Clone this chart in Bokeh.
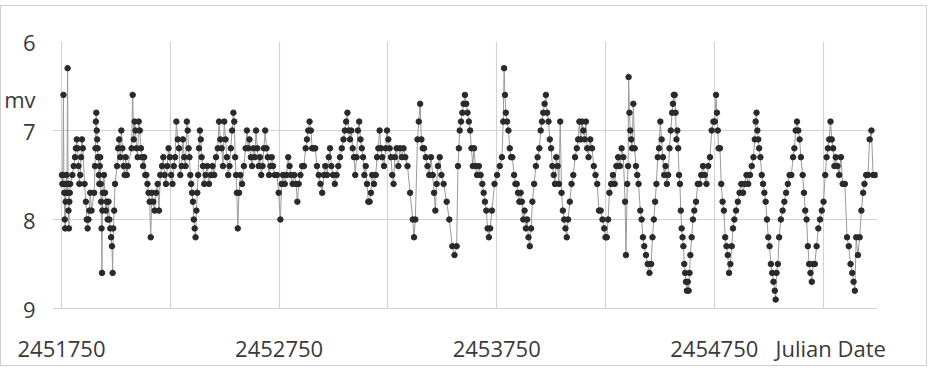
from bokeh.plotting import figure
from bokeh.models import FixedTicker
from bokeh.embed import file_html
from bokeh.resources import INLINE

# Julian dates of the visual estimates
jd = [
    2451752, 2451754, 2451756, 2451759, 2451761, 2451763, 2451765, 2451767, 2451769, 2451771,
    2451773, 2451775, 2451778, 2451780, 2451782, 2451784, 2451786, 2451788, 2451790, 2451800,
    2451806, 2451812, 2451816, 2451820, 2451824, 2451828, 2451832, 2451836, 2451840, 2451844,
    2451848, 2451856, 2451862, 2451866, 2451870, 2451874, 2451878, 2451882, 2451888, 2451900,
    2451904, 2451906, 2451908, 2451910, 2451912, 2451914, 2451916, 2451918, 2451920, 2451922,
    2451924, 2451926, 2451928, 2451930, 2451932, 2451934, 2451936, 2451938, 2451940, 2451945,
    2451950, 2451954, 2451958, 2451962, 2451966, 2451970, 2451974, 2451978, 2451982, 2451985,
    2451988, 2451992, 2451996, 2452005, 2452010, 2452015, 2452020, 2452025, 2452030, 2452035,
    2452040, 2452045, 2452050, 2452055, 2452072, 2452077, 2452082, 2452086, 2452090, 2452095,
    2452100, 2452105, 2452110, 2452115, 2452120, 2452125, 2452130, 2452135, 2452140, 2452145,
    2452150, 2452155, 2452160, 2452165, 2452172, 2452178, 2452185, 2452192, 2452198, 2452204,
    2452212, 2452218, 2452224, 2452230, 2452236, 2452242, 2452248, 2452254, 2452260, 2452266,
    2452272, 2452278, 2452284, 2452290, 2452296, 2452302, 2452308, 2452314, 2452320, 2452326,
    2452330, 2452334, 2452338, 2452342, 2452346, 2452350, 2452354, 2452358, 2452362, 2452366,
    2452370, 2452374, 2452378, 2452382, 2452386, 2452390, 2452394, 2452400, 2452406, 2452412,
    2452420, 2452428, 2452436, 2452444, 2452452, 2452460, 2452468, 2452474, 2452480, 2452486,
    2452492, 2452498, 2452504, 2452510, 2452516, 2452522, 2452528, 2452534, 2452540, 2452544,
    2452548, 2452552, 2452556, 2452560, 2452566, 2452572, 2452580, 2452588, 2452596, 2452602,
    2452608, 2452614, 2452620, 2452626, 2452632, 2452638, 2452644, 2452650, 2452656, 2452662,
    2452668, 2452674, 2452680, 2452686, 2452692, 2452698, 2452704, 2452710, 2452716, 2452722,
    2452730, 2452740, 2452748, 2452756, 2452762, 2452768, 2452776, 2452784, 2452792, 2452798,
    2452804, 2452812, 2452820, 2452828, 2452834, 2452840, 2452848, 2452856, 2452864, 2452872,
    2452878, 2452884, 2452890, 2452896, 2452902, 2452908, 2452916, 2452924, 2452932, 2452940,
    2452948, 2452956, 2452962, 2452970, 2452978, 2452984, 2452990, 2452998, 2453006, 2453014,
    2453022, 2453030, 2453038, 2453046, 2453052, 2453058, 2453064, 2453070, 2453076, 2453082,
    2453088, 2453094, 2453100, 2453106, 2453112, 2453118, 2453124, 2453130, 2453136, 2453142,
    2453148, 2453154, 2453160, 2453166, 2453172, 2453178, 2453186, 2453194, 2453200, 2453206,
    2453212, 2453218, 2453224, 2453232, 2453240, 2453246, 2453252, 2453258, 2453264, 2453270,
    2453276, 2453282, 2453290, 2453298, 2453306, 2453314, 2453322, 2453330, 2453340, 2453352,
    2453364, 2453370, 2453376, 2453386, 2453392, 2453398, 2453404, 2453410, 2453416, 2453424,
    2453432, 2453440, 2453448, 2453456, 2453462, 2453468, 2453474, 2453480, 2453488, 2453496,
    2453506, 2453520, 2453532, 2453546, 2453556, 2453566, 2453572, 2453576, 2453580, 2453586,
    2453592, 2453598, 2453604, 2453610, 2453616, 2453622, 2453628, 2453634, 2453640, 2453646,
    2453652, 2453660, 2453668, 2453676, 2453684, 2453690, 2453696, 2453702, 2453708, 2453714,
    2453720, 2453728, 2453740, 2453752, 2453764, 2453774, 2453780, 2453784, 2453788, 2453792,
    2453798, 2453804, 2453810, 2453816, 2453822, 2453830, 2453836, 2453842, 2453848, 2453854,
    2453860, 2453866, 2453872, 2453878, 2453884, 2453890, 2453896, 2453902, 2453908, 2453914,
    2453922, 2453930, 2453938, 2453946, 2453952, 2453958, 2453964, 2453970, 2453976, 2453982,
    2453988, 2453994, 2454000, 2454006, 2454012, 2454018, 2454024, 2454030, 2454036, 2454042,
    2454048, 2454054, 2454060, 2454066, 2454072, 2454078, 2454086, 2454094, 2454102, 2454110,
    2454118, 2454124, 2454130, 2454136, 2454142, 2454148, 2454154, 2454160, 2454166, 2454172,
    2454180, 2454188, 2454196, 2454204, 2454212, 2454220, 2454228, 2454236, 2454244, 2454250,
    2454256, 2454262, 2454268, 2454276, 2454284, 2454292, 2454300, 2454308, 2454316, 2454324,
    2454332, 2454340, 2454344, 2454350, 2454354, 2454356, 2454360, 2454364, 2454368, 2454372,
    2454378, 2454384, 2454390, 2454396, 2454402, 2454410, 2454416, 2454422, 2454428, 2454436,
    2454444, 2454452, 2454460, 2454466, 2454472, 2454478, 2454484, 2454490, 2454496, 2454502,
    2454508, 2454514, 2454520, 2454526, 2454532, 2454538, 2454544, 2454550, 2454556, 2454560,
    2454564, 2454568, 2454572, 2454576, 2454580, 2454584, 2454588, 2454592, 2454596, 2454600,
    2454604, 2454608, 2454612, 2454616, 2454620, 2454624, 2454628, 2454632, 2454636, 2454640,
    2454646, 2454652, 2454658, 2454666, 2454674, 2454682, 2454690, 2454698, 2454706, 2454714,
    2454722, 2454730, 2454738, 2454746, 2454752, 2454758, 2454762, 2454766, 2454770, 2454776,
    2454782, 2454788, 2454794, 2454800, 2454806, 2454812, 2454818, 2454824, 2454830, 2454836,
    2454842, 2454850, 2454858, 2454866, 2454874, 2454882, 2454890, 2454898, 2454906, 2454914,
    2454922, 2454930, 2454936, 2454940, 2454944, 2454948, 2454952, 2454956, 2454962, 2454968,
    2454974, 2454980, 2454986, 2454992, 2454998, 2455004, 2455010, 2455016, 2455022, 2455028,
    2455032, 2455036, 2455042, 2455048, 2455056, 2455064, 2455072, 2455080, 2455088, 2455096,
    2455104, 2455112, 2455118, 2455124, 2455130, 2455136, 2455142, 2455148, 2455156, 2455162,
    2455168, 2455174, 2455180, 2455186, 2455192, 2455198, 2455204, 2455212, 2455220, 2455228,
    2455236, 2455244, 2455252, 2455260, 2455266, 2455272, 2455278, 2455284, 2455290, 2455296,
    2455302, 2455308, 2455316, 2455324, 2455332, 2455340, 2455350, 2455360, 2455368, 2455376,
    2455384, 2455390, 2455396, 2455402, 2455410, 2455418, 2455426, 2455434, 2455440, 2455448,
    2455456, 2455464, 2455472, 2455480, 2455490,
]

# visual magnitudes (mv)
mv = [
    7.5, 7.6, 7.5, 6.6, 7.6, 7.7, 8.0, 8.1, 7.8, 7.6,
    7.5, 7.7, 6.3, 7.6, 7.9, 8.1, 7.8, 7.7, 7.6, 7.5,
    7.4, 7.3, 7.2, 7.1, 7.2, 7.4, 7.6, 7.5, 7.3, 7.1,
    7.2, 7.6, 7.8, 8.0, 8.1, 8.0, 7.9, 7.7, 7.9, 7.7,
    7.4, 7.2, 6.9, 6.8, 7.0, 7.1, 7.2, 7.3, 7.3, 7.5,
    7.6, 7.4, 7.3, 7.6, 7.8, 8.1, 8.6, 7.9, 7.7, 7.5,
    7.7, 7.9, 7.8, 8.0, 7.8, 8.0, 8.1, 8.2, 8.3, 8.6,
    8.1, 7.9, 7.6, 7.4, 7.2, 7.1, 7.3, 7.0, 7.2, 7.4,
    7.5, 7.3, 7.5, 7.4, 7.2, 6.6, 7.1, 6.9, 7.0, 7.2,
    7.3, 6.9, 7.0, 7.2, 7.3, 7.4, 7.3, 7.5, 7.5, 7.6,
    7.7, 7.8, 8.2, 7.7, 7.8, 7.9, 7.7, 7.6, 7.9, 7.5,
    7.4, 7.3, 7.5, 7.6, 7.4, 7.2, 7.3, 7.5, 7.6, 7.4,
    7.3, 6.9, 7.1, 7.2, 7.5, 7.4, 7.1, 7.3, 7.4, 6.9,
    7.0, 7.2, 7.3, 7.5, 7.6, 7.7, 7.8, 8.0, 8.1, 8.2,
    7.9, 7.7, 7.5, 7.2, 7.0, 7.1, 7.3, 7.4, 7.6, 7.5,
    7.4, 7.6, 7.5, 7.4, 7.5, 7.3, 7.2, 6.9, 7.1, 7.2,
    7.4, 6.9, 7.1, 7.3, 7.5, 7.4, 7.2, 7.0, 6.8, 6.9,
    7.3, 7.5, 7.7, 8.1, 7.7, 7.5, 7.6, 7.4, 7.2, 7.0,
    7.2, 7.1, 7.3, 7.4, 7.2, 7.3, 7.0, 7.2, 7.4, 7.3,
    7.5, 7.4, 7.2, 7.0, 7.2, 7.3, 7.5, 7.4, 7.3, 7.4,
    7.5, 7.5, 7.7, 8.0, 7.6, 7.5, 7.6, 7.5, 7.3, 7.4,
    7.5, 7.6, 7.5, 7.6, 7.8, 7.6, 7.5, 7.4, 7.4, 7.2,
    7.1, 7.0, 6.9, 7.0, 7.2, 7.2, 7.2, 7.4, 7.5, 7.6,
    7.7, 7.5, 7.4, 7.5, 7.3, 7.2, 7.4, 7.5, 7.6, 7.5,
    7.4, 7.3, 7.2, 7.1, 7.0, 6.9, 6.8, 7.0, 7.1, 7.0,
    7.2, 7.3, 7.5, 7.3, 7.0, 6.9, 7.1, 7.2, 7.3, 7.5,
    7.4, 7.6, 7.8, 7.8, 7.7, 7.5, 7.6, 7.5, 7.3, 7.2,
    7.0, 7.2, 7.3, 7.4, 7.2, 7.0, 7.1, 7.2, 7.3, 7.5,
    7.6, 7.3, 7.2, 7.4, 7.2, 7.3, 7.2, 7.3, 7.4, 7.7,
    8.0, 8.2, 8.0, 7.1, 6.9, 6.7, 7.1, 7.2, 7.2, 7.3,
    7.4, 7.5, 7.3, 7.5, 7.7, 7.9, 7.6, 7.4, 7.3, 7.5,
    7.6, 7.8, 8.0, 8.3, 8.4, 8.3, 7.4, 7.2, 7.0, 6.9,
    6.8, 6.7, 6.6, 6.7, 6.8, 6.9, 7.0, 7.2, 7.4, 7.2,
    7.4, 7.5, 7.4, 7.5, 7.6, 7.7, 7.8, 7.9, 8.1, 8.2,
    8.1, 7.9, 7.6, 7.5, 7.4, 7.3, 6.9, 6.3, 6.6, 6.8,
    6.9, 7.0, 7.2, 7.3, 7.3, 7.5, 7.6, 7.6, 7.7, 7.8,
    7.7, 7.8, 8.0, 7.9, 8.1, 8.0, 8.2, 8.3, 8.1, 7.8,
    7.6, 7.4, 7.3, 7.2, 7.0, 6.9, 6.8, 6.7, 6.6, 6.8,
    6.9, 7.1, 7.2, 7.4, 7.5, 7.6, 7.3, 7.4, 7.6, 6.9,
    7.7, 7.9, 8.0, 8.1, 8.2, 8.0, 7.8, 7.6, 7.5, 7.3,
    7.2, 7.1, 6.9, 7.1, 6.9, 7.0, 7.1, 6.9, 7.2, 7.3,
    7.1, 7.2, 7.4, 7.5, 7.6, 7.9, 7.9, 8.0, 8.1, 8.2,
    8.2, 8.0, 7.7, 7.6, 7.5, 7.6, 7.4, 7.3, 7.4, 7.2,
    7.3, 7.8, 8.4, 7.6, 7.4, 6.4, 6.8, 7.0, 7.1, 7.2,
    6.7, 7.2, 7.4, 7.5, 7.6, 7.9, 8.0, 8.2, 8.3, 8.4,
    8.5, 8.6, 8.5, 8.2, 8.0, 7.8, 7.6, 7.3, 7.2, 6.9,
    7.1, 7.3, 7.5, 7.4, 7.6, 7.5, 7.2, 7.0, 6.8, 6.7,
    6.6, 6.6, 6.8, 7.1, 7.0, 7.2, 7.5, 7.6, 7.9, 8.1,
    8.2, 8.3, 8.5, 8.6, 8.7, 8.8, 8.7, 8.8, 8.6, 8.4,
    8.2, 8.0, 7.9, 7.8, 7.6, 7.6, 7.5, 7.4, 7.5, 7.6,
    7.4, 7.3, 7.0, 6.9, 6.9, 6.6, 6.8, 7.0, 7.2, 7.2,
    7.6, 7.8, 7.9, 8.2, 8.3, 8.4, 8.6, 8.5, 8.3, 8.1,
    8.0, 7.9, 7.8, 7.7, 7.6, 7.7, 7.6, 7.5, 7.6, 7.5,
    7.4, 7.3, 7.1, 6.9, 6.8, 7.0, 7.1, 7.2, 7.3, 7.5,
    7.6, 7.7, 7.8, 8.0, 8.2, 8.3, 8.5, 8.6, 8.7, 8.8,
    8.9, 8.6, 8.5, 8.2, 8.0, 7.9, 7.8, 7.7, 7.6, 7.5,
    7.5, 7.3, 7.2, 7.0, 6.9, 7.0, 7.1, 7.3, 7.5, 7.7,
    7.9, 8.0, 8.3, 8.5, 8.6, 8.7, 8.5, 8.5, 8.3, 8.1,
    8.0, 7.9, 7.8, 7.5, 7.3, 7.2, 7.1, 6.9, 7.1, 7.2,
    7.4, 7.3, 7.4, 7.5, 7.3, 7.6, 7.6, 8.2, 8.3, 8.5,
    8.6, 8.7, 8.8, 8.2, 8.4, 8.2, 7.9, 7.7, 7.6, 7.5,
    7.5, 7.1, 7.0, 7.5, 7.5,
]

x_labels = [2451750, 2452750, 2453750, 2454750]
x_title = "Julian Date"
x_title_pos = 2455285
x_grid = [2451750, 2452250, 2452750, 2453250, 2453750, 2454250, 2454750, 2455250]
y_ticks = [6, 7, 8, 9]
y_title = "mv"
y_title_pos = 6.65

FONT = "Open Sans"
TXT = "#3a3a3a"
GRID = "#d3d3d3"

p = figure(width=927, height=361, x_range=(2451708.6, 2455500), y_range=(9, 6),
           output_backend="svg", toolbar_location=None,
           min_border_left=46, min_border_right=51, min_border_top=35, min_border_bottom=59)
p.styles = {"border": "1px solid #cfcfcf", "margin-left": "0px", "margin-top": "5px"}
p.outline_line_color = None
p.background_fill_color = "white"
p.border_fill_color = "white"

p.line(jd, mv, line_color="#9a9a9a", line_width=1)
p.scatter(jd, mv, marker="circle", size=5.5, fill_color="#2a2a2a", line_color="#2a2a2a")

x_over = {v: str(v) for v in x_labels}
x_over[x_title_pos] = x_title
p.xaxis.ticker = FixedTicker(ticks=x_labels + [x_title_pos])
p.xaxis.major_label_overrides = x_over
p.xaxis.major_tick_line_color = None
p.xaxis.minor_tick_line_color = None
p.xaxis.axis_line_color = GRID
p.xaxis.major_label_standoff = 18
p.xaxis.major_label_text_font = FONT
p.xaxis.major_label_text_font_size = "22px"
p.xaxis.major_label_text_color = TXT

y_over = {v: str(v) for v in y_ticks}
y_over[y_title_pos] = y_title
p.yaxis.ticker = FixedTicker(ticks=y_ticks + [y_title_pos])
p.yaxis.major_label_overrides = y_over
p.yaxis.axis_line_color = None
p.yaxis.major_tick_line_color = None
p.yaxis.minor_tick_line_color = None
p.yaxis.major_label_standoff = 11
p.yaxis.major_label_text_font = FONT
p.yaxis.major_label_text_font_size = "22px"
p.yaxis.major_label_text_color = TXT

p.xgrid.ticker = FixedTicker(ticks=x_grid)
p.xgrid.grid_line_color = GRID
p.xgrid.grid_line_width = 1.2
p.ygrid.ticker = FixedTicker(ticks=y_ticks)
p.ygrid.grid_line_color = GRID
p.ygrid.grid_line_width = 1.2

open("out.html", "w").write(file_html(p, INLINE))
